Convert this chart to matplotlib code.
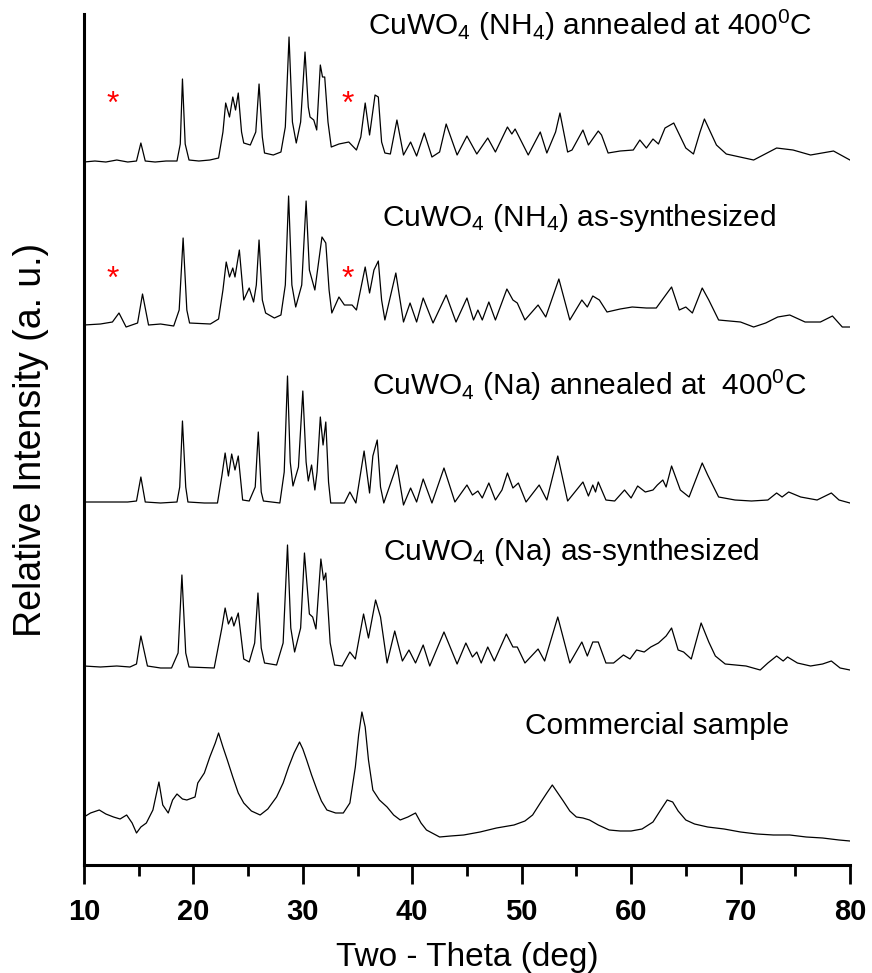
import matplotlib
matplotlib.use('Agg')
import matplotlib.pyplot as plt
from matplotlib.ticker import MultipleLocator

plt.rcParams['font.family'] = ['Liberation Sans', 'DejaVu Sans']
plt.rcParams['mathtext.default'] = 'regular'

# (two-theta, relative intensity above each pattern's own baseline)
nh4_annealed = [(10, 0), (11, 1), (12, 0), (13, 2), (14, 0), (14.8, 1), (15.2, 19), (15.6, 1), (16.5, 0), (17.5, 1),
                (18.5, 1), (18.8, 18), (19.0, 83), (19.25, 18), (19.6, 2), (20.5, 1), (21.5, 2), (22.3, 4), (22.7, 30),
                (22.95, 59), (23.3, 45), (23.6, 65), (23.85, 52), (24.1, 69), (24.4, 30), (24.6, 19), (25.2, 17),
                (25.7, 30), (26.0, 78), (26.3, 25), (26.5, 9), (27.3, 7), (28.0, 10), (28.4, 35), (28.74, 125),
                (29.05, 40), (29.4, 19), (29.8, 40), (30.2, 110), (30.5, 55), (30.66, 45), (31.0, 42), (31.27, 32),
                (31.6, 97), (31.8, 85), (32.0, 85), (32.3, 40), (32.6, 15), (33.3, 18), (34.2, 20), (34.9, 12),
                (35.3, 25), (35.7, 59), (36.1, 27), (36.6, 67), (36.9, 65), (37.2, 20), (37.5, 9), (38.0, 8),
                (38.6, 42), (39.2, 7), (39.85, 20), (40.4, 6), (41.1, 29), (41.8, 5), (42.5, 10), (43.1, 38),
                (44.1, 7), (45.0, 26), (45.9, 8), (46.9, 24), (47.6, 10), (48.7, 35), (49.1, 28), (49.4, 33),
                (50.6, 7), (51.7, 30), (52.3, 9), (53.1, 30), (53.5, 49), (54.2, 10), (54.6, 12), (55.6, 32),
                (56.1, 17), (57.0, 31), (57.3, 27), (57.9, 9), (59.0, 11), (60.2, 12), (60.8, 22), (61.4, 14),
                (62.0, 23), (62.5, 18), (63.1, 34), (63.9, 39), (65.0, 14), (65.7, 8), (66.3, 30), (66.7, 43),
                (67.8, 17), (68.7, 8), (71.2, 2), (73.3, 14), (74.8, 12), (76.4, 7), (78.5, 11), (80, 2)]

nh4_synth = [(10, 0), (11.5, 1), (12.6, 3), (13.2, 12), (13.85, -2), (14.9, 2), (15.35, 31), (15.9, 0), (17.0, 1),
             (18.2, -1), (18.7, 15), (19.06, 87), (19.4, 15), (19.65, 2), (21.55, 1), (22.3, 6), (22.7, 35),
             (23.0, 63), (23.3, 48), (23.6, 57), (23.8, 48), (24.2, 75), (24.6, 25), (25.1, 37), (25.5, 23),
             (25.75, 40), (26.0, 85), (26.3, 25), (26.6, 12), (27.4, 7), (28.0, 10), (28.4, 40), (28.7, 129),
             (29.0, 40), (29.35, 18), (29.9, 40), (30.3, 124), (30.6, 55), (30.8, 47), (31.1, 35), (31.75, 88),
             (32.1, 82), (32.4, 35), (32.65, 12), (33.3, 28), (33.8, 20), (34.5, 20), (34.9, 15), (35.7, 58),
             (36.1, 32), (36.5, 55), (36.9, 64), (37.2, 25), (37.5, 5), (38.5, 52), (39.2, 3), (39.8, 22),
             (40.4, 3), (41.0, 27), (41.9, 2), (43.1, 30), (44.0, 3), (45.0, 27), (45.6, 5), (46.0, 15), (46.4, 5),
             (47.0, 23), (47.6, 5), (48.65, 36), (49.2, 25), (49.6, 22), (50.3, 5), (51.5, 20), (52.2, 8),
             (53.4, 46), (54.4, 5), (55.5, 25), (56.0, 18), (56.5, 29), (57.1, 25), (57.8, 13), (59.0, 16),
             (60.1, 18), (61.4, 17), (62.3, 17), (63.7, 38), (64.4, 15), (65.0, 18), (65.6, 12), (66.5, 37),
             (67.1, 25), (68.0, 5), (70.0, 3), (71.2, -2), (72.3, 2), (73.4, 8), (74.5, 10), (75.9, 3), (77.3, 3),
             (78.4, 9), (79.3, -2), (80, -2)]

na_annealed = [(10, 0), (12, 0), (14, 0), (14.8, 1), (15.2, 25), (15.6, 0), (17, -1), (18.5, 0), (18.75, 15),
               (19.0, 81), (19.3, 15), (19.5, 0), (21, -1), (22.2, -1), (22.6, 26), (22.9, 49), (23.2, 26),
               (23.5, 48), (23.8, 32), (24.1, 46), (24.5, 2), (25.1, 1), (25.65, 15), (25.93, 70), (26.2, 10),
               (26.4, 1), (27.9, -1), (28.3, 30), (28.6, 126), (28.85, 40), (29.1, 16), (29.6, 35), (30.0, 111),
               (30.3, 40), (30.5, 21), (30.8, 37), (31.1, 12), (31.3, 30), (31.6, 85), (31.85, 57), (32.1, 80),
               (32.35, 20), (32.55, -1), (33.8, -1), (34.3, 10), (34.85, -1), (35.6, 51), (36.1, 9), (36.4, 46),
               (36.8, 62), (37.1, 15), (37.4, -1), (38.6, 37), (39.2, -3), (39.85, 14), (40.4, 0), (41.0, 23),
               (41.8, -1), (42.9, 34), (43.9, 0), (45.0, 17), (45.5, 7), (46.0, 11), (46.4, 4), (47.0, 19),
               (47.6, 2), (48.2, 12), (48.7, 29), (49.2, 14), (49.7, 19), (50.4, 0), (51.6, 17), (52.3, 2),
               (53.3, 46), (54.2, 1), (55.6, 20), (56.1, 6), (56.5, 17), (56.75, 10), (57.0, 20), (57.7, 2),
               (58.5, 1), (59.4, 12), (60.0, 4), (60.6, 16), (61.3, 10), (62.0, 12), (62.4, 17), (62.9, 22),
               (63.2, 15), (63.7, 36), (64.5, 12), (65.3, 5), (66.5, 39), (67.0, 27), (68.0, 5), (69.5, 2),
               (71.0, 1), (72.5, 2), (73.3, 9), (73.8, 5), (74.4, 10), (75.5, 5), (77.0, 2), (78.3, 9), (79.0, 2),
               (80, -1)]

na_synth = [(10, 2), (11.5, 1), (13, 2), (14.2, 1), (14.8, 4), (15.2, 32), (15.8, 2), (17, 0), (18.0, 0),
            (18.6, 15), (18.95, 93), (19.3, 15), (19.6, 1), (21.9, 0), (22.6, 40), (22.9, 60), (23.2, 44),
            (23.5, 51), (23.7, 42), (24.1, 55), (24.6, 9), (25.1, 6), (25.6, 25), (25.9, 75), (26.2, 20), (26.5, 5),
            (27.6, 3), (28.2, 25), (28.6, 123), (28.9, 40), (29.25, 16), (29.8, 40), (30.15, 115), (30.6, 54),
            (30.9, 51), (31.2, 39), (31.65, 109), (31.9, 88), (32.1, 95), (32.5, 25), (32.9, 3), (33.6, 2),
            (34.3, 16), (34.8, 9), (35.55, 54), (36.0, 30), (36.65, 68), (37.1, 51), (37.7, 5), (38.4, 37),
            (39.1, 7), (39.7, 18), (40.3, 5), (41.0, 23), (41.6, 2), (42.9, 36), (44.1, 4), (44.9, 25), (45.5, 11),
            (45.9, 16), (46.3, 5), (46.9, 21), (47.5, 7), (48.6, 34), (49.2, 21), (49.6, 21), (50.3, 5),
            (51.5, 19), (52.1, 7), (53.3, 51), (54.4, 5), (55.5, 26), (56.0, 12), (56.5, 26), (57.0, 26),
            (57.7, 5), (58.4, 5), (59.3, 13), (59.9, 9), (60.5, 18), (61.2, 16), (61.8, 21), (62.5, 25),
            (63.2, 32), (63.7, 40), (64.3, 18), (64.8, 16), (65.5, 9), (66.4, 45), (67.1, 26), (67.7, 12),
            (68.6, 4), (70.5, 2), (71.8, -2), (72.5, 5), (73.3, 12), (73.9, 7), (74.3, 11), (75.2, 5), (76.4, 2),
            (77.5, 4), (78.3, 7), (79.1, 0), (80, -2)]

commercial = [(10, 28), (10.6, 32), (11.4, 35), (12.0, 31), (12.7, 28), (13.3, 26), (13.9, 30), (14.4, 22),
              (14.8, 12), (15.2, 18), (15.7, 22), (16.3, 35), (16.85, 63), (17.2, 40), (17.7, 32), (18.1, 45),
              (18.5, 51), (19.0, 46), (19.4, 45), (20.15, 48), (20.4, 62), (21.0, 72), (21.5, 88), (22.0, 102),
              (22.3, 112), (22.7, 98), (23.1, 85), (23.6, 68), (24.1, 52), (24.6, 42), (25.3, 34), (26.1, 30),
              (26.8, 36), (27.6, 48), (28.2, 62), (28.7, 78), (29.2, 92), (29.7, 103), (30.0, 96), (30.35, 85),
              (30.8, 70), (31.3, 55), (31.7, 44), (32.2, 35), (33.0, 32), (33.7, 32), (34.3, 42), (34.8, 78),
              (35.1, 110), (35.4, 133), (35.7, 118), (36.0, 85), (36.4, 55), (37.0, 45), (37.7, 38), (38.3, 30),
              (38.9, 25), (39.6, 28), (40.3, 32), (40.8, 22), (41.3, 15), (42.5, 8), (43.5, 9), (44.7, 10),
              (46.2, 13), (47.7, 17), (49.3, 20), (50.3, 24), (51.0, 30), (51.7, 42), (52.3, 52), (52.8, 60),
              (53.3, 52), (53.8, 44), (54.4, 34), (55.0, 28), (55.6, 27), (56.2, 25), (57.0, 20), (58.0, 15),
              (59.0, 14), (60.0, 14), (61.0, 16), (62.0, 23), (62.7, 35), (63.3, 45), (63.8, 43), (64.3, 34),
              (65.0, 25), (65.8, 21), (67.0, 18), (68.5, 16), (70.0, 13), (71.5, 11), (73.0, 10), (74.5, 10),
              (76.0, 8), (77.5, 7), (79.0, 5), (80, 4)]

labels = ['CuWO$_4$ (NH$_4$) annealed at 400$^0$C',
          'CuWO$_4$ (NH$_4$) as-synthesized',
          'CuWO$_4$ (Na) annealed at  400$^0$C',
          'CuWO$_4$ (Na) as-synthesized',
          'Commercial sample']
star_positions = [12.65, 34.1]

patterns = [nh4_annealed, nh4_synth, na_annealed, na_synth, commercial]
offsets = [703, 540, 363, 197, 20]
label_xy = [(35.96, 840), (37.24, 647), (36.3, 480), (37.33, 313), (50.3, 139)]
star_y = [760, 585]

fig = plt.figure(figsize=(8.72, 9.73), dpi=100)
ax = fig.add_axes([0.0963, 0.111, 0.8784, 0.8746])

for pts, off in zip(patterns, offsets):
    x, y = zip(*pts)
    ax.plot(x, [v + off for v in y], color='black', lw=0.9)

for lab, (lx, ly) in zip(labels, label_xy):
    ax.text(lx, ly, lab, fontsize=21.5, ha='left', va='center')

for sy in star_y:
    for sx in star_positions:
        ax.text(sx, sy, '*', color='red', fontsize=23, ha='center', va='center')

ax.set_xlim(10, 80)
ax.set_ylim(0, 851)
ax.set_yticks([])
ax.xaxis.set_major_locator(MultipleLocator(10))
ax.xaxis.set_minor_locator(MultipleLocator(5))
ax.tick_params(axis='x', which='major', direction='out', length=14, width=2, pad=10, labelsize=21)
ax.tick_params(axis='x', which='minor', direction='out', length=8, width=2)
for lbl in ax.get_xticklabels():
    lbl.set_family(['Liberation Sans Narrow', 'Liberation Sans'])
    lbl.set_fontweight('bold')

for s in ['top', 'right']:
    ax.spines[s].set_visible(False)
ax.spines['left'].set_linewidth(2.2)
ax.spines['bottom'].set_linewidth(2.2)

ax.set_xlabel('Two - Theta (deg)', fontsize=24, labelpad=11)
fig.text(0.036, 0.548, 'Relative Intensity (a. u.)', rotation=90, fontsize=27, ha='center', va='center')

fig.savefig('out.png', dpi=100)
